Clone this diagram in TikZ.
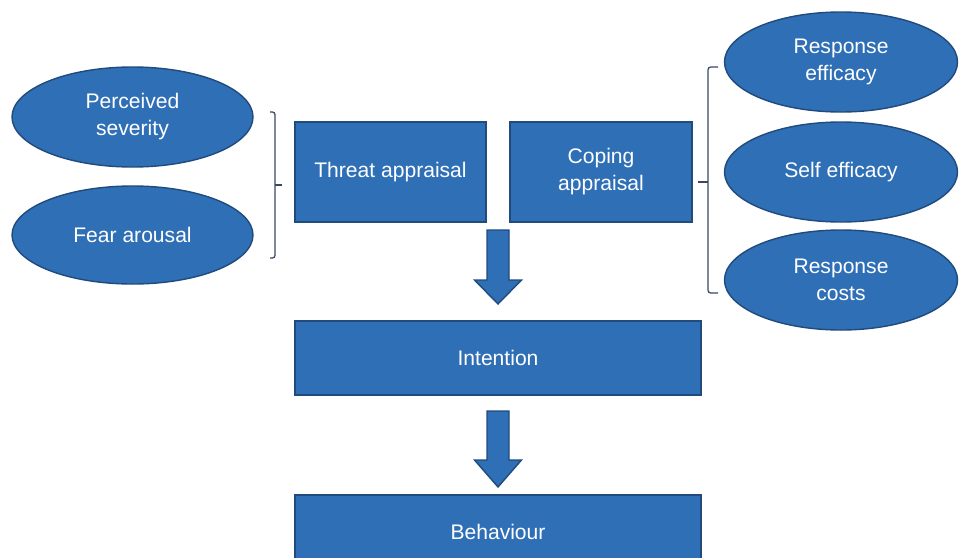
\documentclass[tikz,border=0pt]{standalone}
\usepackage{fontspec}
\setmainfont{Liberation Sans}
\usepackage{tikz}
\usetikzlibrary{positioning,shapes.geometric}
\usepackage{xcolor}
\definecolor{BoxBlue}{RGB}{47, 111, 182}
\definecolor{BoxBlueDark}{RGB}{33, 74, 125}
\definecolor{BraceGray}{RGB}{55, 72, 100}

\begin{document}
\begin{tikzpicture}[every node/.style={font=\fontsize{12}{15.4}\selectfont,align=center,text=white},
    ovalbox/.style={ellipse,draw=BoxBlueDark,fill=BoxBlue,line width=0.8pt,minimum width=4.82cm,minimum height=2.0cm},
    rectbox/.style={rectangle,draw=BoxBlueDark,fill=BoxBlue,line width=0.8pt,minimum height=2.0cm},
    blockarrow/.style={draw=BoxBlueDark,fill=BoxBlue,line width=0.8pt,line join=miter},
    bracket/.style={draw=BraceGray,line width=0.7pt,rounded corners=1.5pt}]
    \useasboundingbox (0,0) rectangle (19.18,-11.14);
    % left factors
    \node[ovalbox] (sev) at (2.65, -2.34) {Perceived\\severity};
    \node[ovalbox,minimum height=1.96cm] (fear) at (2.65, -4.7) {Fear arousal};
    % appraisals
    \node[rectbox,minimum width=3.82cm] (threat) at (7.81, -3.44) {Threat appraisal};
    \node[rectbox,minimum width=3.64cm] (coping) at (12.02, -3.44) {Coping\\appraisal};
    % right factors
    \node[ovalbox,minimum width=4.66cm] (reff) at (16.82, -1.24) {Response\\efficacy};
    \node[ovalbox,minimum width=4.66cm] (seff) at (16.82, -3.44) {Self efficacy};
    \node[ovalbox,minimum width=4.66cm] (rcost) at (16.82, -5.6) {Response\\costs};
    % outcome
    \node[rectbox,minimum width=8.12cm,minimum height=1.48cm] (intent) at (9.96, -7.16) {Intention};
    \node[rectbox,minimum width=8.12cm,minimum height=1.48cm] (behav) at (9.96, -10.64) {Behaviour};
    % brackets
    \draw[bracket] (5.4,-2.24) -- (5.5,-2.24) -- (5.5,-5.16) -- (5.4,-5.16);
    \draw[bracket] (5.5,-3.7) -- (5.64,-3.7);
    \draw[bracket] (14.36,-1.34) -- (14.16,-1.34) -- (14.16,-5.86) -- (14.36,-5.86);
    \draw[bracket] (14.16,-3.64) -- (13.96,-3.64);
    % block arrows
    \coordinate (a1) at (9.96, -4.6);
    \coordinate (a2) at (9.96, -8.22);
    \draw[blockarrow] (a1) ++(-0.22,0) -- ++(0.44,0) -- ++(0,-1.0) -- ++(0.25,0) -- ++(-0.47,-0.48) -- ++(-0.47,0.48) -- ++(0.25,0) -- cycle;
    \draw[blockarrow] (a2) ++(-0.22,0) -- ++(0.44,0) -- ++(0,-0.98) -- ++(0.25,0) -- ++(-0.47,-0.54) -- ++(-0.47,0.54) -- ++(0.25,0) -- cycle;
  \end{tikzpicture}
\end{document}
